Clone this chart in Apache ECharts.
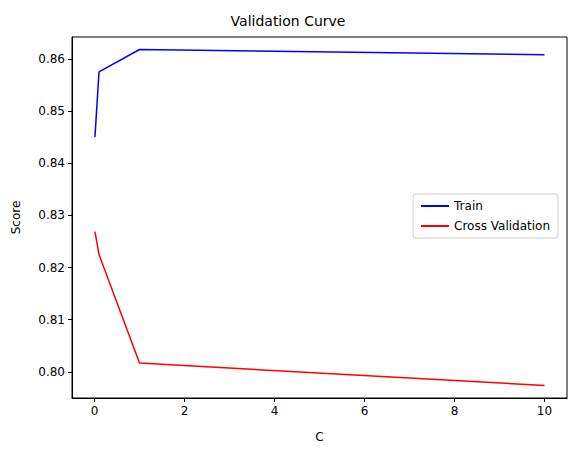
<!DOCTYPE html>
<html>
<head>
<meta charset="utf-8">
<script src="https://cdn.jsdelivr.net/npm/echarts@6/dist/echarts.min.js"></script>
<style>html,body{margin:0;padding:0;background:#fff}#c{width:576px;height:455px}</style>
</head>
<body>
<div id="c"></div>
<script>
var cValues = [0.01, 0.1, 1, 10];
var trainScores = [0.8450, 0.8575, 0.8618, 0.8608];
var cvScores = [0.8269, 0.8225, 0.8017, 0.7974];
var xTicks = [0, 2, 4, 6, 8, 10];
var yTicks = [0.80, 0.81, 0.82, 0.83, 0.84, 0.85, 0.86];

function pairs(xs, ys) { return xs.map(function(x, i) { return [x, ys[i]]; }); }

var font = 'DejaVu Sans';
var chart = echarts.init(document.getElementById('c'), null, { renderer: 'svg' });
chart.setOption({
  animation: false,
  textStyle: { fontFamily: font },
  title: { text: 'Validation Curve', left: 'center', top: 9, textStyle: { fontFamily: font, fontSize: 14, fontWeight: 'normal', color: '#000' } },
  grid: { left: 72, right: 9, top: 37, bottom: 57, show: true, borderColor: '#000', borderWidth: 1, backgroundColor: 'transparent' },
  legend: {
    orient: 'vertical', right: 18, top: 194,
    backgroundColor: '#fff', borderColor: '#ccc', borderWidth: 1, borderRadius: 3, padding: [6, 8],
    itemWidth: 28, itemHeight: 2, itemGap: 8,
    textStyle: { fontFamily: font, fontSize: 12, color: '#000' },
    data: [{ name: 'Train', icon: 'rect' }, { name: 'Cross Validation', icon: 'rect' }]
  },
  xAxis: {
    type: 'value', min: -0.5, max: 10.5, name: 'C', nameLocation: 'middle', nameGap: 33,
    nameTextStyle: { fontFamily: font, fontSize: 12, color: '#000' },
    splitLine: { show: false },
    axisLine: { onZero: false, lineStyle: { color: '#000' } },
    axisTick: { show: true, length: 4, customValues: xTicks, lineStyle: { color: '#000' } },
    axisLabel: { customValues: xTicks, color: '#000', fontSize: 12, fontFamily: font, margin: 7 }
  },
  yAxis: {
    type: 'value', min: 0.795, max: 0.8642, name: 'Score', nameLocation: 'middle', nameGap: 50,
    nameTextStyle: { fontFamily: font, fontSize: 12, color: '#000' },
    splitLine: { show: false },
    axisLine: { show: true, onZero: false, lineStyle: { color: '#000' } },
    axisTick: { show: true, length: 4, customValues: yTicks, lineStyle: { color: '#000' } },
    axisLabel: { customValues: yTicks, color: '#000', fontSize: 12, fontFamily: font, margin: 7,
      formatter: function(v) { return v.toFixed(2); } }
  },
  series: [
    { name: 'Train', type: 'line', data: pairs(cValues, trainScores), showSymbol: false, lineStyle: { color: '#0000ff', width: 1.5 }, itemStyle: { color: '#0000ff' } },
    { name: 'Cross Validation', type: 'line', data: pairs(cValues, cvScores), showSymbol: false, lineStyle: { color: '#ff0000', width: 1.5 }, itemStyle: { color: '#ff0000' } }
  ]
});
</script>
</body>
</html>
